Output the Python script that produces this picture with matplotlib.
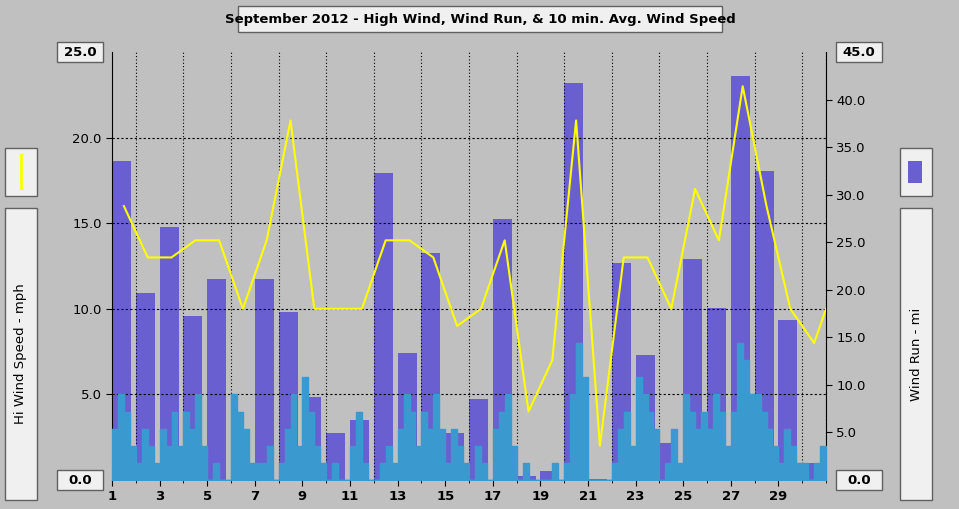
import numpy as np
import matplotlib
matplotlib.use('Agg')
import matplotlib.pyplot as plt
from matplotlib.patches import Rectangle

DAYS = list(range(1, 31))
# daily wind run (mi), right axis
WIND_RUN = [33.5, 19.7, 26.6, 17.2, 21.1, 2.1, 21.1, 17.7, 8.7, 4.9,
            6.3, 32.3, 13.4, 23.9, 4.9, 8.5, 27.4, 0.4, 0.9, 41.7,
            0.1, 22.8, 13.1, 3.9, 23.2, 18.1, 42.5, 32.5, 16.8, 1.8]
# daily high wind (mph), left axis
HI_WIND = [16, 13, 13, 14, 14, 10, 14, 21, 10, 10,
           10, 14, 14, 13, 9, 10, 14, 4, 7, 21,
           2, 13, 13, 10, 17, 14, 23, 16, 10, 8]
HI_WIND_END = 10
# 10 min avg wind speed, 4 samples per day (mph)
AVG_WIND = [3, 5, 4, 2, 1, 3, 2, 1, 3, 2, 4, 2, 4, 3, 5, 2, 0, 1, 0, 0,
            5, 4, 3, 1, 1, 1, 2, 0, 1, 3, 5, 2, 6, 4, 2, 1, 0, 1, 0, 0,
            2, 4, 1, 0, 0, 1, 2, 1, 3, 5, 4, 2, 4, 3, 5, 3, 1, 3, 2, 1,
            0, 2, 1, 0, 3, 4, 5, 2, 0, 1, 0, 0, 0, 0, 1, 0, 1, 5, 8, 6,
            0, 0, 0, 0, 1, 3, 4, 2, 6, 5, 4, 3, 0, 1, 3, 1, 5, 4, 3, 4,
            3, 5, 4, 2, 4, 8, 7, 5, 5, 4, 3, 2, 1, 3, 2, 1, 1, 0, 1, 2]

GRAY = '#C0C0C0'
fig = plt.figure(figsize=(9.59, 5.09), dpi=100, facecolor=GRAY)
ax = fig.add_axes([112/959, 1-480/509, 714/959, 428/509], facecolor=GRAY)
ax2 = ax.twinx()

ax2.bar(np.array(DAYS), WIND_RUN, width=0.8, align='edge', color='#6A5FD0', zorder=1)
t = 1 + np.arange(len(AVG_WIND) + 1) / 4
ax.fill_between(t, AVG_WIND + [AVG_WIND[-1]], step='post', color='#3A9AD0', zorder=3)
ax.set_zorder(2)
ax.patch.set_visible(False)
x = np.array(DAYS) + 0.5
ax.plot(list(x) + [31], HI_WIND + [HI_WIND_END], color='#FFFF00', lw=1.5, zorder=4)

ax.set_xlim(1, 31)
ax.set_ylim(0, 25)
ax2.set_ylim(0, 45)
ax.set_xticks(range(1, 31, 2))
ax.set_xticks(range(1, 32), minor=True)
ax.set_yticks([5, 10, 15, 20])
ax.set_yticklabels(['5.0', '10.0', '15.0', '20.0'])
ax2.set_yticks([5, 10, 15, 20, 25, 30, 35, 40])
ax2.set_yticklabels([f'{v:.1f}' for v in range(5, 45, 5)])
ax.grid(True, which='minor', axis='x', color='black', ls=(0, (1, 2)), lw=0.8)
ax.grid(True, axis='y', color='black', ls=(0, (2, 2)), lw=0.8)
for a in (ax, ax2):
    a.tick_params(labelsize=9.5, length=4)
    for s in a.spines.values():
        s.set_visible(False)
ax.spines['left'].set_visible(True)
ax2.spines['right'].set_visible(True)
for lab in ax.get_xticklabels():
    lab.set_fontweight('bold')

def box(x0, y0, w, h, text='', rot=0, fs=9.5, bold=False):
    fig.patches.append(Rectangle((x0/959, 1-(y0+h)/509), w/959, h/509, transform=fig.transFigure,
                                 facecolor='#F0F0F0', edgecolor='#606060', lw=1))
    if text:
        fig.text((x0+w/2)/959, 1-(y0+h/2)/509, text, rotation=rot, ha='center', va='center',
                 fontsize=fs, fontweight='bold' if bold else 'normal')

box(238, 6, 484, 26, 'September 2012 - High Wind, Wind Run, & 10 min. Avg. Wind Speed', bold=True)
box(57, 42, 46, 20, '25.0', bold=True)
box(57, 470, 46, 20, '0.0', bold=True)
box(836, 42, 46, 20, '45.0', bold=True)
box(836, 470, 46, 20, '0.0', bold=True)
box(5, 148, 32, 48)
fig.add_artist(plt.Line2D([21/959, 21/959], [1-155/509, 1-188/509], color='#FFFF00', lw=2))
box(5, 208, 32, 292, 'Hi Wind Speed - mph', rot=90)
box(900, 148, 32, 48)
fig.patches.append(Rectangle((908/959, 1-183/509), 14/959, 22/509, transform=fig.transFigure,
                             facecolor='#6A5FD0'))
box(900, 208, 32, 292, 'Wind Run - mi', rot=90)

fig.savefig('out.png', dpi=100, facecolor=GRAY)
